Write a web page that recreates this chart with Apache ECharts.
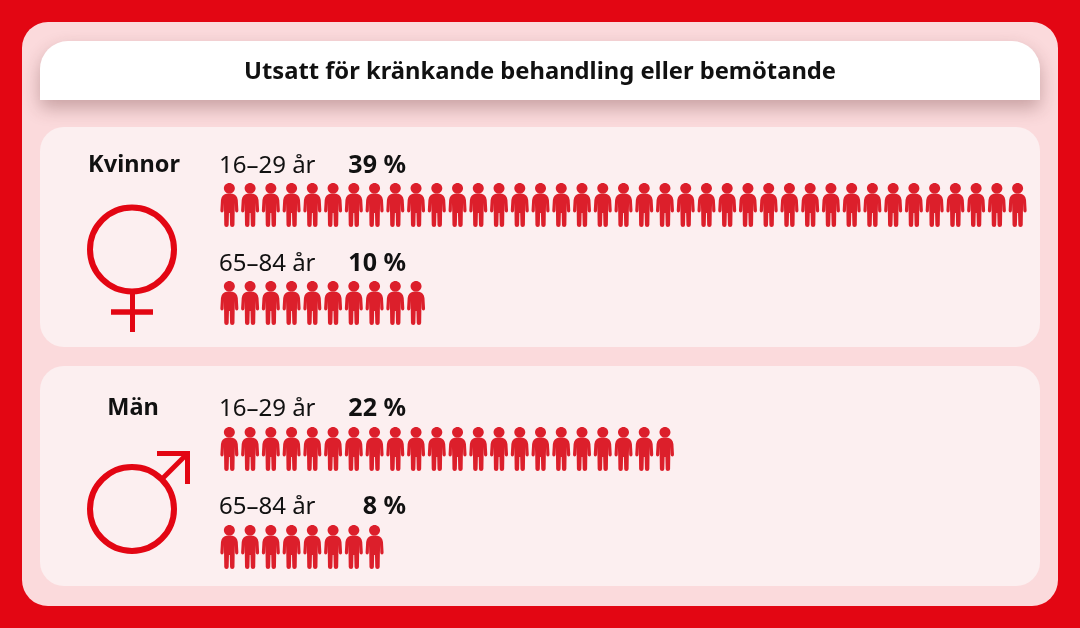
<!DOCTYPE html>
<html><head><meta charset="utf-8">
<style>html,body{margin:0;padding:0;background:#E30613}#c{width:1080px;height:628px}</style>
<script src="https://cdn.jsdelivr.net/npm/echarts@6/dist/echarts.min.js"></script></head>
<body><div id="c"></div>
<script>
const title = 'Utsatt för kränkande behandling eller bemötande';
const groups = ['Kvinnor', 'Män'];
const ages = ['16–29 år', '65–84 år', '16–29 år', '65–84 år'];
const values = [39, 10, 22, 8];
const rowCenters = [205, 303, 449, 547];
const labelYs = [166, 264, 409, 507];
const axisMax = 39;

const FONT = '"Noto Sans", sans-serif';
const RED = '#E30613';
const PERSON = 'path://M9 0C12 0 14.5 2.4 14.5 5.3C14.5 8.2 12 10.6 9 10.6C6 10.6 3.5 8.2 3.5 5.3C3.5 2.4 6 0 9 0ZM6 10.8L12 10.8Q16.6 11.6 17.4 17L18 27.5Q18 29.5 16.4 29.5Q14.8 29.5 14.7 27.5L14.6 20L14.3 29L14.1 42Q14 44 11.8 44Q9.8 44 9.7 42L9.4 30L8.6 30L8.3 42Q8.2 44 6.2 44Q4 44 3.9 42L3.7 29L3.4 20L3.3 27.5Q3.2 29.5 1.6 29.5Q0 29.5 0 27.5L0.6 17Q1.4 11.6 6 10.8Z';

const chart = echarts.init(document.getElementById('c'), null, {renderer:'canvas'});
const grids = [], xAxes = [], yAxes = [], series = [];
values.forEach((v, i) => {
  grids.push({left:219, width:809, top:rowCenters[i]-22, height:44});
  xAxes.push({type:'value', gridIndex:i, min:0, max:axisMax, show:false});
  yAxes.push({type:'category', gridIndex:i, data:[ages[i]], show:false});
  series.push({type:'pictorialBar', xAxisIndex:i, yAxisIndex:i, data:[v], symbol:PERSON,
    symbolSize:[18,44], symbolRepeat:v, symbolBoundingData:v, symbolMargin:'1!', symbolPosition:'start',
    symbolClip:false, itemStyle:{color:'#DC1F2B'}, silent:true, animation:false, z:5});
});

const txt = (x,y,t,size,weight,align) => ({type:'text', x, y, z:3, silent:true,
  style:{text:t, fontFamily:FONT, fontSize:size, fontWeight:weight, fill:'#111', align, verticalAlign:'middle'}});
const panel = (y) => ({type:'rect', shape:{x:40,y,width:1000,height:220,r:24}, z:1, silent:true, style:{fill:'#FCEFF0'}});
const gfx = [
  {type:'rect', shape:{x:22,y:22,width:1036,height:584,r:26}, z:0, silent:true, style:{fill:'#FBDADC'}},
  {type:'rect', shape:{x:40,y:41,width:1000,height:59,r:[28,28,0,0]}, z:1, silent:true,
    style:{fill:'#fff', shadowBlur:18, shadowOffsetY:8, shadowColor:'rgba(90,40,40,0.32)'}},
  panel(127), panel(366),
  txt(540,72,title,23.75,700,'center'),
  txt(134,165,groups[0],23.5,700,'center'),
  txt(133,408,groups[1],23.5,700,'center'),
  // female symbol
  {type:'circle', shape:{cx:132,cy:249.5,r:42}, z:3, silent:true, style:{fill:'none',stroke:RED,lineWidth:6}},
  {type:'line', shape:{x1:132.5,y1:294,x2:132.5,y2:332}, z:3, silent:true, style:{stroke:RED,lineWidth:5}},
  {type:'line', shape:{x1:111,y1:312,x2:153,y2:312}, z:3, silent:true, style:{stroke:RED,lineWidth:5.5}},
  // male symbol
  {type:'circle', shape:{cx:132,cy:509,r:42}, z:3, silent:true, style:{fill:'none',stroke:RED,lineWidth:6}},
  {type:'line', shape:{x1:163,y1:478,x2:187,y2:454}, z:3, silent:true, style:{stroke:RED,lineWidth:5}},
  {type:'polyline', shape:{points:[[157,453.5],[187.5,453.5],[187.5,484]]}, z:3, silent:true, style:{fill:'none',stroke:RED,lineWidth:5}}
];
values.forEach((v,i) => {
  gfx.push(txt(219,labelYs[i],ages[i],24,400,'left'));
  gfx.push(txt(406,labelYs[i],v+' %',25,700,'right'));
});
chart.setOption({animation:false, backgroundColor:RED, grid:grids, xAxis:xAxes, yAxis:yAxes, series, graphic:{elements:gfx}});
</script></body></html>
